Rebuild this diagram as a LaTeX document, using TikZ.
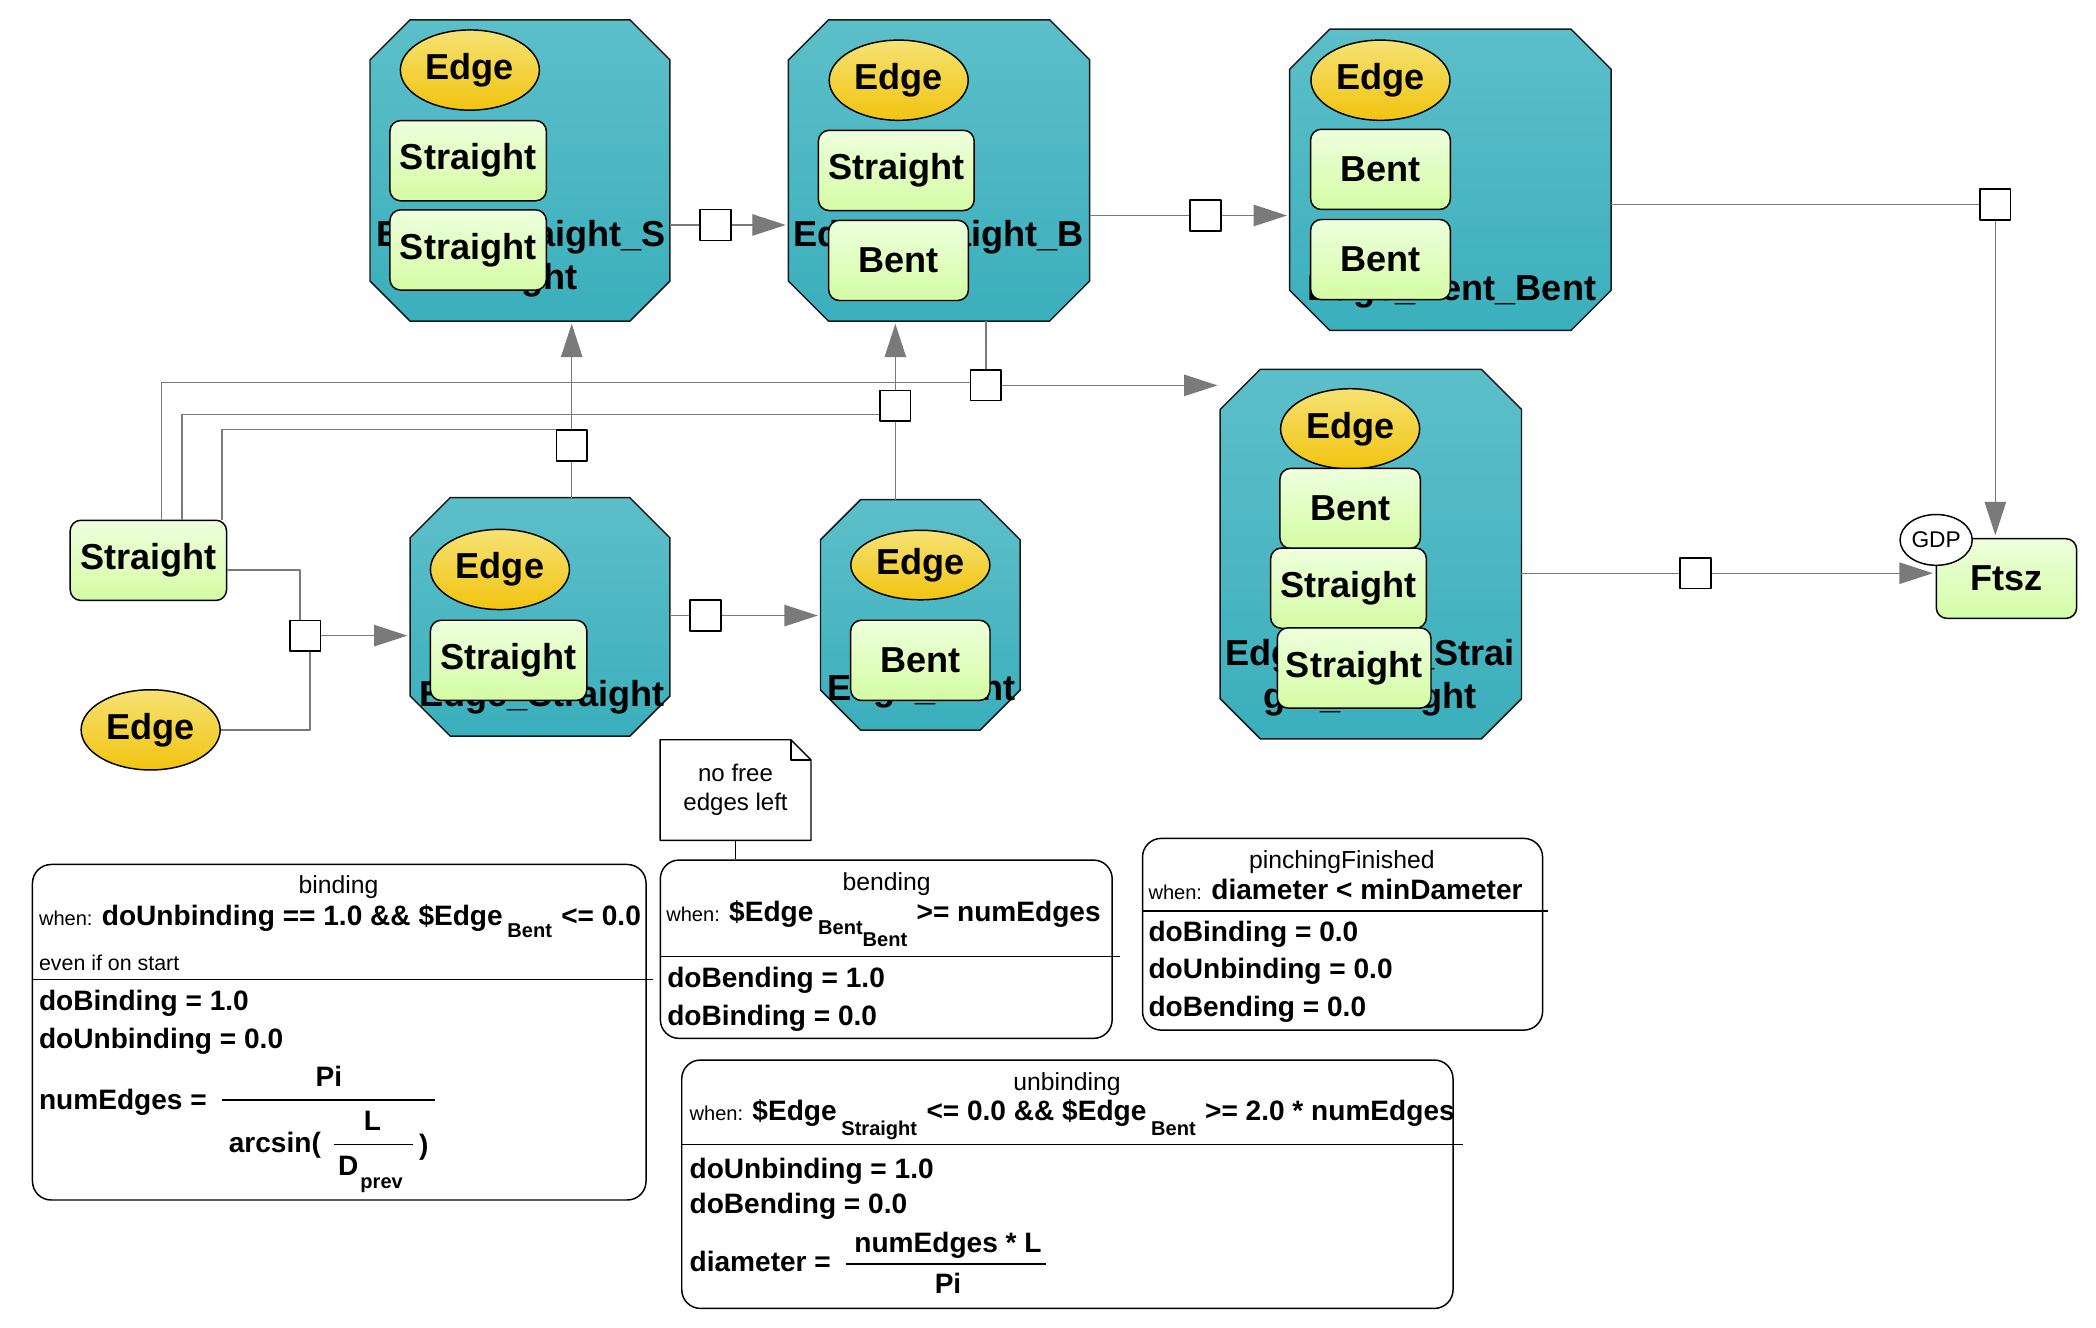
\documentclass[tikz,border=0pt]{standalone}
\usepackage{fontspec}
\setmainfont{Liberation Sans}
\usetikzlibrary{arrows.meta,calc,shapes.geometric}
\definecolor{tealT}{HTML}{5CBFC9}
\definecolor{tealB}{HTML}{3BAFBC}
\definecolor{edgeT}{HTML}{F6E274}
\definecolor{edgeB}{HTML}{F2C40F}
\definecolor{grnT}{HTML}{EEFFDD}
\definecolor{grnB}{HTML}{D4FCA4}
\definecolor{connc}{HTML}{7A7A7A}
\newcommand\mywhen{\fontsize{15}{18}\selectfont\mdseries}
\newcommand\mysub{\fontsize{15}{18}\selectfont\bfseries}
\tikzset{
 octframe/.style={rectangle, inner sep=0, draw=none},
 octfill/.style={draw=black!90, line width=1.1pt, top color=tealT, bottom color=tealB},
 edgenode/.style={ellipse, draw=black, line width=1.1pt, top color=edgeT, bottom color=edgeB, inner sep=0, minimum width=104pt, minimum height=60pt, font=\fontsize{27}{32}\selectfont\bfseries},
 statebox/.style={rectangle, rounded corners=8pt, draw=black, line width=1.1pt, top color=grnT, bottom color=grnB, inner sep=0, minimum height=60pt, font=\fontsize{27}{32}\selectfont\bfseries},
 octlabel/.style={anchor=north, inner sep=0, align=center, font=\fontsize{27}{32}\selectfont\bfseries},
 trans/.style={rectangle, draw=black, line width=1.1pt, fill=white, minimum size=23pt, inner sep=0},
 conn/.style={draw=connc, line width=1pt},
 arr/.style={conn, -{Triangle[length=25pt,width=16pt]}, shorten >=2pt},
 rulebox/.style={rectangle, rounded corners=14pt, draw=black, line width=1.1pt, fill=white, inner sep=0},
 rule/.style={draw=black, line width=1.1pt},
 boldtxt/.style={inner sep=0, anchor=west, text height=15pt, text depth=0pt, font=\fontsize{21}{25}\selectfont\bfseries},
 titletxt/.style={inner sep=0, text height=13.3pt, text depth=0pt, font=\fontsize{18.5}{22}\selectfont},
 smalltxt/.style={inner sep=0, anchor=west, text height=11.5pt, text depth=0pt, font=\fontsize{16}{19}\selectfont},
}
\newcommand\octagonnode[5]{%
 \node[octframe, minimum width=#4pt, minimum height=#5pt] (#1) at (#2,#3) {};
 \path[octfill] ($(#1.north west)+(30pt,0)$) -- ($(#1.north east)+(-30pt,0)$) -- ($(#1.north east)+(0,-30pt)$) -- ($(#1.south east)+(0,30pt)$) -- ($(#1.south east)+(-30pt,0)$) -- ($(#1.south west)+(30pt,0)$) -- ($(#1.south west)+(0,30pt)$) -- ($(#1.north west)+(0,-30pt)$) -- cycle;}
\begin{document}
\begin{tikzpicture}[x=1pt, y=-1pt, line join=round]
\fill[white] (0,0) rectangle (1568,993.4);
\useasboundingbox (0,0) rectangle (1568,993.4);

% ---------- octagon places ----------
\octagonnode{oSS}{389}{127.5}{224}{225}
\node[octlabel] (lSS) at (389.8,164.8) {Edge\_Straight\_S\\traight};
\node[edgenode] (eSS) at (351.5,52.4) {Edge};
\node[statebox, minimum width=117pt] (sSS1) at (350.2,120.2) {Straight};
\node[statebox, minimum width=117pt] (sSS2) at (350.2,187) {Straight};

\octagonnode{oSB}{702.5}{127.5}{225}{225}
\node[octlabel] (lSB) at (702,164.8) {Edge\_Straight\_B\\ent};
\node[edgenode] (eSB) at (672.3,60) {Edge};
\node[statebox, minimum width=116.5pt] (sSB1) at (670.5,127.5) {Straight};
\node[statebox, minimum width=104.5pt] (sSB2) at (672.2,194.8) {Bent};

\octagonnode{oBB}{1085}{134.5}{240}{225}
\node[octlabel] (lBB) at (1086,205.2) {Edge\_Bent\_Bent};
\node[edgenode] (eBB) at (1032.7,60) {Edge};
\node[statebox, minimum width=104.5pt] (sBB1) at (1032.7,126.7) {Bent};
\node[statebox, minimum width=104.5pt] (sBB2) at (1032.7,194.2) {Bent};

\octagonnode{oBSS}{1025.5}{414.5}{225}{276}
\node[octlabel] (lBSS) at (1025,478) {Edge\_Bent\_Strai\\ght\_Straight};
\node[edgenode] (eBSS) at (1010,320.8) {Edge};
\node[statebox, minimum width=105pt] (sBSS1) at (1010,380.4) {Bent};
\node[statebox, minimum width=116.5pt] (sBSS2) at (1008.8,440) {Straight};
\node[statebox, minimum width=115pt] (sBSS3) at (1013,499.7) {Straight};

\octagonnode{oS}{404}{461.5}{194}{178}
\node[octlabel] (lS) at (405.5,509) {Edge\_Straight};
\node[edgenode] (eS) at (374,426) {Edge};
\node[statebox, minimum width=117pt] (sS1) at (380.5,494) {Straight};

\octagonnode{oB}{688.5}{460}{149}{172}
\node[octlabel] (lB) at (689.5,504) {Edge\_Bent};
\node[edgenode, minimum height=52pt] (eB) at (688.5,422.7) {Edge};
\node[statebox, minimum width=104.2pt] (sB1) at (688.5,494) {Bent};

% ---------- free places ----------
\node[statebox, minimum width=117pt] (sS) at (111,419.2) {Straight};
\node[edgenode] (sE) at (112.7,546) {Edge};
\node[statebox, minimum width=105pt, minimum height=59.6pt] (Ftsz) at (1501,432.8) {Ftsz};
\node[ellipse, draw=black, line width=1.1pt, fill=white, inner sep=0, minimum width=54pt, minimum height=38pt, font=\fontsize{17}{20}\selectfont] (gdp) at (1448.4,403.9) {GDP};

% ---------- transitions ----------
\node[trans] (t1) at (228.3,475.5) {};
\node[trans] (t2) at (427.7,333.2) {};
\node[trans] (t3) at (669.8,303.5) {};
\node[trans] (t4) at (737.5,288.3) {};
\node[trans] (t5) at (535.2,168.3) {};
\node[trans] (t6) at (901.8,161.2) {};
\node[trans] (t7) at (1492.7,153) {};
\node[trans] (t8) at (1268.3,428.8) {};
\node[trans] (t9) at (527.8,460.5) {};

% ---------- connectors ----------
\draw[conn] ([yshift=-7.3pt]sS.east) -| ([xshift=-3.8pt]t1.north);
\draw[conn] (sE.east) -| ([xshift=3.7pt]t1.south);
\draw[arr] (t1.east) -- (t1 -| oS.west);

\draw[conn] (t2 |- oS.north) -- (t2.south);
\draw[arr] (t2.north) -- (t2 |- oSS.south);
\draw[conn] ([xshift=-4pt]sS.north east) |- (t2.north west);

\draw[conn] (t3 |- oB.north) -- (t3.south);
\draw[arr] (t3.north) -- (t3 |- oSB.south);
\draw[conn] ([xshift=-34pt]sS.north east) |- ([yshift=-6.5pt]t3.west);

\draw[conn] (t4 |- oSB.south) -- (t4.north);
\draw[conn] ([xshift=-49pt]sS.north east) |- ([yshift=2.3pt]t4.west);
\draw[arr] (t4.east) -- (t4 -| oBSS.west);

\draw[conn] (t5 -| oSS.east) -- (t5.west);
\draw[arr] (t5.east) -- (t5 -| oSB.west);

\draw[conn] (t6 -| oSB.east) -- (t6.west);
\draw[arr] (t6.east) -- (t6 -| oBB.west);

\draw[conn] (t7 -| oBB.east) -- (t7.west);
\draw[arr] (t7.south) -- (t7 |- Ftsz.north);

\draw[conn] (t8 -| oBSS.east) -- (t8.west);
\draw[arr] (t8.east) -- (t8 -| Ftsz.west);

\draw[conn] (t9 -| oS.east) -- (t9.west);
\draw[arr] (t9.east) -- (t9 -| oB.west);

% ---------- note ----------
\node[inner sep=0, minimum width=112.5pt, minimum height=74.8pt, align=center, font=\fontsize{18}{22}\selectfont] (note) at (550.25,591) {no free\\edges left};
\draw[line width=1.1pt] (note.north west) -- ($(note.north east)+(-15pt,0)$) -- ($(note.north east)+(0,-15pt)$) -- (note.south east) -- (note.south west) -- cycle;
\draw[line width=1.1pt] ($(note.north east)+(-15pt,0)$) -- ($(note.north east)+(-15pt,-15pt)$) -- ($(note.north east)+(0,-15pt)$);

% ---------- binding ----------
\node[rulebox, minimum width=459pt, minimum height=251pt] (bind) at (253.8,772.2) {};
\node[titletxt] at (253.2,662) {binding};
\node[boldtxt] at (29,684.5) {{\mywhen when:}\,\,doUnbinding == 1.0 \&\& \$Edge\,\raisebox{-9.2pt}{\mysub Bent}\,\,<= 0.0};
\node[smalltxt] at (29,720.6) {even if on start};
\draw[rule] (24.3,732.7) -- (488.6,732.7);
\node[boldtxt] at (29,748.6) {doBinding = 1.0};
\node[boldtxt] at (29,776.8) {doUnbinding = 0.0};
\node[boldtxt] at (29,822.4) {numEdges =};
\node[boldtxt, anchor=center] at (246,805.5) {Pi};
\draw[rule] (166,822.9) -- (325.7,822.9);
\node[boldtxt] at (171,854.9) {arcsin(};
\draw[rule] (249.7,856) -- (309,856);
\node[boldtxt, anchor=center] at (278.6,838.4) {L};
\node[boldtxt, anchor=center] at (260.6,871.6) {D};
\node[boldtxt, anchor=center, font=\mysub, text height=10.7pt] at (285.5,884) {prev};
\node[boldtxt, anchor=center] at (317,856.5) {)};

% ---------- bending ----------
\node[rulebox, minimum width=338pt, minimum height=133.4pt] (bend) at (663,710.1) {};
\draw[line width=1.1pt] (note.south) -- (note.south |- bend.north);
\node[titletxt] at (663.2,659.6) {bending};
\node[boldtxt] at (498.3,682) {{\mywhen when:}\,\,\$Edge\,\raisebox{-9.6pt}{\mysub Bent}\raisebox{-18.6pt}{\mysub Bent}\,\,>= numEdges};
\draw[rule] (494,715.7) -- (837.6,715.7);
\node[boldtxt] at (499,731.2) {doBending = 1.0};
\node[boldtxt] at (499,759.3) {doBinding = 0.0};

% ---------- pinchingFinished ----------
\node[rulebox, minimum width=299.3pt, minimum height=143.4pt] (pinch) at (1004.35,698.9) {};
\node[titletxt] at (1003.8,642.9) {pinchingFinished};
\node[boldtxt] at (859,665.3) {{\mywhen when:}\,\,diameter < minDameter};
\draw[rule] (854.7,681.5) -- (1158.4,681.5);
\node[boldtxt] at (859,696.5) {doBinding = 0.0};
\node[boldtxt] at (859,724.4) {doUnbinding = 0.0};
\node[boldtxt] at (859,752.6) {doBending = 0.0};

% ---------- unbinding ----------
\node[rulebox, minimum width=577pt, minimum height=185.8pt] (unbind) at (798.5,885.9) {};
\node[titletxt] at (798.2,809.2) {unbinding};
\node[boldtxt] at (515.7,830.4) {{\mywhen when:}\,\,\$Edge\,\raisebox{-11.6pt}{\mysub Straight}\,\,<= 0.0 \&\& \$Edge\,\raisebox{-11.6pt}{\mysub Bent}\,\,>= 2.0 * numEdges};
\draw[rule] (510,856) -- (1094.8,856);
\node[boldtxt] at (515.7,874) {doUnbinding = 1.0};
\node[boldtxt] at (515.7,900.2) {doBending = 0.0};
\node[boldtxt] at (515.7,943.9) {diameter =};
\node[boldtxt, anchor=center] at (709.2,929.5) {numEdges * L};
\draw[rule] (633,945.6) -- (782.5,945.6);
\node[boldtxt, anchor=center] at (709.2,960) {Pi};
\end{tikzpicture}
\end{document}
